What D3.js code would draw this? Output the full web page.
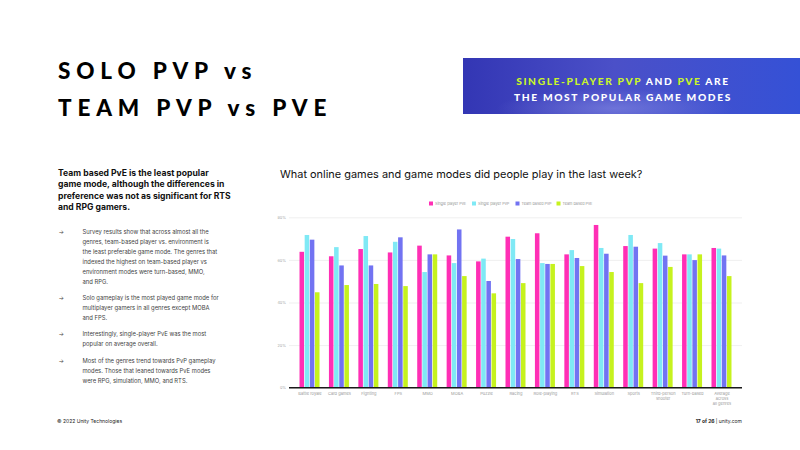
<!DOCTYPE html>
<html>
<head>
<meta charset="utf-8">
<script src="https://cdn.jsdelivr.net/npm/d3@7"></script>
<style>
  html, body { margin: 0; padding: 0; background: #fff; }
  svg { display: block; }
</style>
</head>
<body>
<div id="chart"></div>
<script>
// Data
const categories = ["Battle royale", "Card games", "Fighting", "FPS", "MMO", "MOBA", "Puzzle", "Racing",
    "Role-playing", "RTS", "Simulation", "Sports", "Third-person shooter", "Turn-based", "Average across all genres"];
const categoryLines = [["Battle royale"], ["Card games"], ["Fighting"], ["FPS"], ["MMO"], ["MOBA"], ["Puzzle"], ["Racing"],
    ["Role-playing"], ["RTS"], ["Simulation"], ["Sports"], ["Third-person", "shooter"], ["Turn-based"], ["Average", "across", "all genres"]];
const seriesNames = ["Single player PvE", "Single player PvP", "Team based PvP", "Team based PvE"];
const singlePvE = [63.8, 61.7, 65.1, 63.5, 66.7, 62.1, 59.3, 70.9, 72.5, 62.6, 76.4, 66.5, 65.3, 62.6, 65.6];
const singlePvP = [71.7, 66.0, 71.2, 68.5, 54.3, 58.5, 60.6, 69.8, 58.5, 64.6, 65.6, 71.7, 67.9, 62.6, 65.3];
const teamPvP   = [69.5, 57.4, 57.4, 70.6, 62.6, 74.3, 50.1, 60.4, 58.1, 60.9, 62.9, 66.2, 62.0, 59.9, 62.1];
const teamPvE   = [44.8, 48.2, 48.7, 47.7, 62.6, 52.4, 44.3, 49.1, 58.1, 57.1, 54.3, 49.1, 56.7, 62.6, 52.4];
const yTicks = [0, 20, 40, 60, 80];

const seriesValues = [singlePvE, singlePvP, teamPvP, teamPvE];
const colors = ["#ff2fb5", "#7fe9f5", "#7273f2", "#c6f21e"];

const W = 800, H = 450;
const svg = d3.select("#chart").append("svg").attr("width", W).attr("height", H);

// ---- Title (top left)
const title = svg.append("text")
    .attr("font-family", "Lato, 'DejaVu Sans', sans-serif")
    .attr("font-weight", 900)
    .attr("font-size", 22.5)
    .attr("letter-spacing", "0.26em")
    .attr("fill", "#000");
title.append("tspan").attr("x", 58).attr("y", 78.5).text("SOLO PVP vs");
title.append("tspan").attr("x", 58).attr("y", 115.5).text("TEAM PVP vs PVE");

// ---- Banner (top right)
const defs = svg.append("defs");
const lg = defs.append("linearGradient").attr("id", "bannerGrad").attr("x1", 0).attr("x2", 1).attr("y1", 0).attr("y2", 0);
lg.append("stop").attr("offset", "0%").attr("stop-color", "#3336b4");
lg.append("stop").attr("offset", "45%").attr("stop-color", "#4b50c8");
lg.append("stop").attr("offset", "100%").attr("stop-color", "#3551d6");
const rg = defs.append("radialGradient").attr("id", "bannerGlow").attr("cx", 0.45).attr("cy", 0.9).attr("r", 0.35);
rg.append("stop").attr("offset", "0%").attr("stop-color", "#8a90e6").attr("stop-opacity", 0.55);
rg.append("stop").attr("offset", "100%").attr("stop-color", "#8a90e6").attr("stop-opacity", 0);

svg.append("rect").attr("x", 463).attr("y", 58).attr("width", W - 463).attr("height", 56).attr("fill", "url(#bannerGrad)");
svg.append("rect").attr("x", 463).attr("y", 58).attr("width", W - 463).attr("height", 56).attr("fill", "url(#bannerGlow)");

const bannerLines = [
    [["SINGLE-PLAYER PVP", "#c8f52a"], [" AND ", "#fff"], ["PVE", "#c8f52a"], [" ARE", "#fff"]],
    [["THE MOST POPULAR GAME MODES", "#fff"]]
];
bannerLines.forEach((parts, i) => {
    const t = svg.append("text")
        .attr("x", 623).attr("y", 84.5 + i * 16.5)
        .attr("text-anchor", "middle")
        .attr("font-family", "Lato, 'DejaVu Sans', sans-serif")
        .attr("font-weight", 900)
        .attr("font-size", 10.2)
        .attr("letter-spacing", "0.16em");
    parts.forEach(p => t.append("tspan").attr("fill", p[1]).text(p[0]));
});

// ---- Left column text
const lead = ["Team based PvE is the least popular", "game mode, although the differences in",
    "preference was not as significant for RTS", "and RPG gamers."];
svg.append("g").selectAll("text").data(lead).join("text")
    .attr("x", 58).attr("y", (d, i) => 175.5 + i * 11.6)
    .attr("font-family", "Inter, sans-serif").attr("font-weight", 700)
    .attr("font-size", 8.6).attr("fill", "#111").text(d => d);

const bullets = [
    { y: 233.7, lines: ["Survey results show that across almost all the", "genres, team-based player vs. environment is",
        "the least preferable game mode. The genres that", "indexed the highest on team-based player vs",
        "environment modes were turn-based, MMO,", "and RPG."] },
    { y: 299.5, lines: ["Solo gameplay is the most played game mode for", "multiplayer gamers in all genres except MOBA", "and FPS."] },
    { y: 336.2, lines: ["Interestingly, single-player PvE was the most", "popular on average overall."] },
    { y: 363, lines: ["Most of the genres trend towards PvP gameplay", "modes. Those that leaned towards PvE modes",
        "were RPG, simulation, MMO, and RTS."] }
];
const bg = svg.append("g").attr("font-family", "Inter, sans-serif").attr("font-size", 5.85).attr("fill", "#444");
bullets.forEach(b => {
    bg.append("text").attr("x", 58.5).attr("y", b.y).text("→");
    b.lines.forEach((l, j) => bg.append("text").attr("x", 82.5).attr("y", b.y + j * 10).text(l));
});

// ---- Footer
svg.append("text").attr("x", 57).attr("y", 422.5)
    .attr("font-family", "Inter, sans-serif").attr("font-size", 5).attr("fill", "#222")
    .text("© 2022 Unity Technologies");
const foot = svg.append("text").attr("x", 742).attr("y", 422.5).attr("text-anchor", "end")
    .attr("font-family", "Inter, sans-serif").attr("font-size", 5).attr("fill", "#222");
foot.append("tspan").attr("font-weight", 700).text("17 of 26 ");
foot.append("tspan").text("| unity.com");

// ---- Chart title
svg.append("text").attr("x", 280).attr("y", 178)
    .attr("font-family", "Inter, sans-serif").attr("font-size", 10.95).attr("fill", "#111")
    .text("What online games and game modes did people play in the last week?");

// ---- Legend
const legendX = [429, 472, 515.5, 556.5];
const legend = svg.append("g").selectAll("g").data(seriesNames).join("g")
    .attr("transform", (d, i) => `translate(${legendX[i]}, 203.5)`);
legend.append("rect").attr("x", 0).attr("y", -2).attr("width", 4).attr("height", 4).attr("fill", (d, i) => colors[i]);
legend.append("text").attr("x", 6).attr("y", 1.5)
    .attr("font-family", "Inter, sans-serif").attr("font-size", 3.8).attr("fill", "#999").text(d => d);

// ---- Bars
const margin = { left: 289, right: 742, top: 217.3, bottom: 387.7 };
const x = d3.scaleBand().domain(categories).range([295.3, 736.7]).paddingInner(0).paddingOuter(0);
const xs = d3.scaleBand().domain(seriesNames).range([0, 20]).paddingInner(0.12);
const y = d3.scaleLinear().domain([0, 80]).range([margin.bottom, margin.top]);

// grid
svg.append("g")
    .attr("transform", `translate(${margin.left},0)`)
    .call(d3.axisLeft(y).tickValues(yTicks).tickFormat(d => d + "%").tickSize(-(margin.right - margin.left)))
    .call(g => g.select(".domain").remove())
    .call(g => g.selectAll(".tick line").attr("stroke", "#ebebeb").attr("stroke-width", 0.8))
    .call(g => g.selectAll(".tick text").attr("x", -3).attr("fill", "#aaa")
        .attr("font-family", "Inter, sans-serif").attr("font-size", 3.8));

const groups = svg.append("g").selectAll("g").data(categories).join("g")
    .attr("transform", d => `translate(${x(d) + x.bandwidth() / 2 - 10.5},0)`);
groups.selectAll("rect")
    .data((d, i) => seriesNames.map((s, k) => ({ s, v: seriesValues[k][i], k })))
    .join("rect")
    .attr("x", d => xs(d.s))
    .attr("y", d => y(d.v))
    .attr("width", xs.bandwidth())
    .attr("height", d => y(0) - y(d.v))
    .attr("fill", d => colors[d.k]);

// baseline
svg.append("line").attr("x1", margin.left).attr("x2", margin.right)
    .attr("y1", y(0)).attr("y2", y(0)).attr("stroke", "#1a1a1a").attr("stroke-width", 1.5);

// x labels
svg.append("g").selectAll("text").data(categories).join("text")
    .attr("x", d => x(d) + x.bandwidth() / 2)
    .attr("y", 394.5)
    .attr("text-anchor", "middle")
    .attr("font-family", "Inter, sans-serif").attr("font-size", 4).attr("fill", "#999")
    .each(function (d, i) {
        categoryLines[i].forEach((l, j) => d3.select(this).append("tspan")
            .attr("x", x(d) + x.bandwidth() / 2).attr("dy", j === 0 ? 0 : 5.4).text(l));
    });
</script>
</body>
</html>
